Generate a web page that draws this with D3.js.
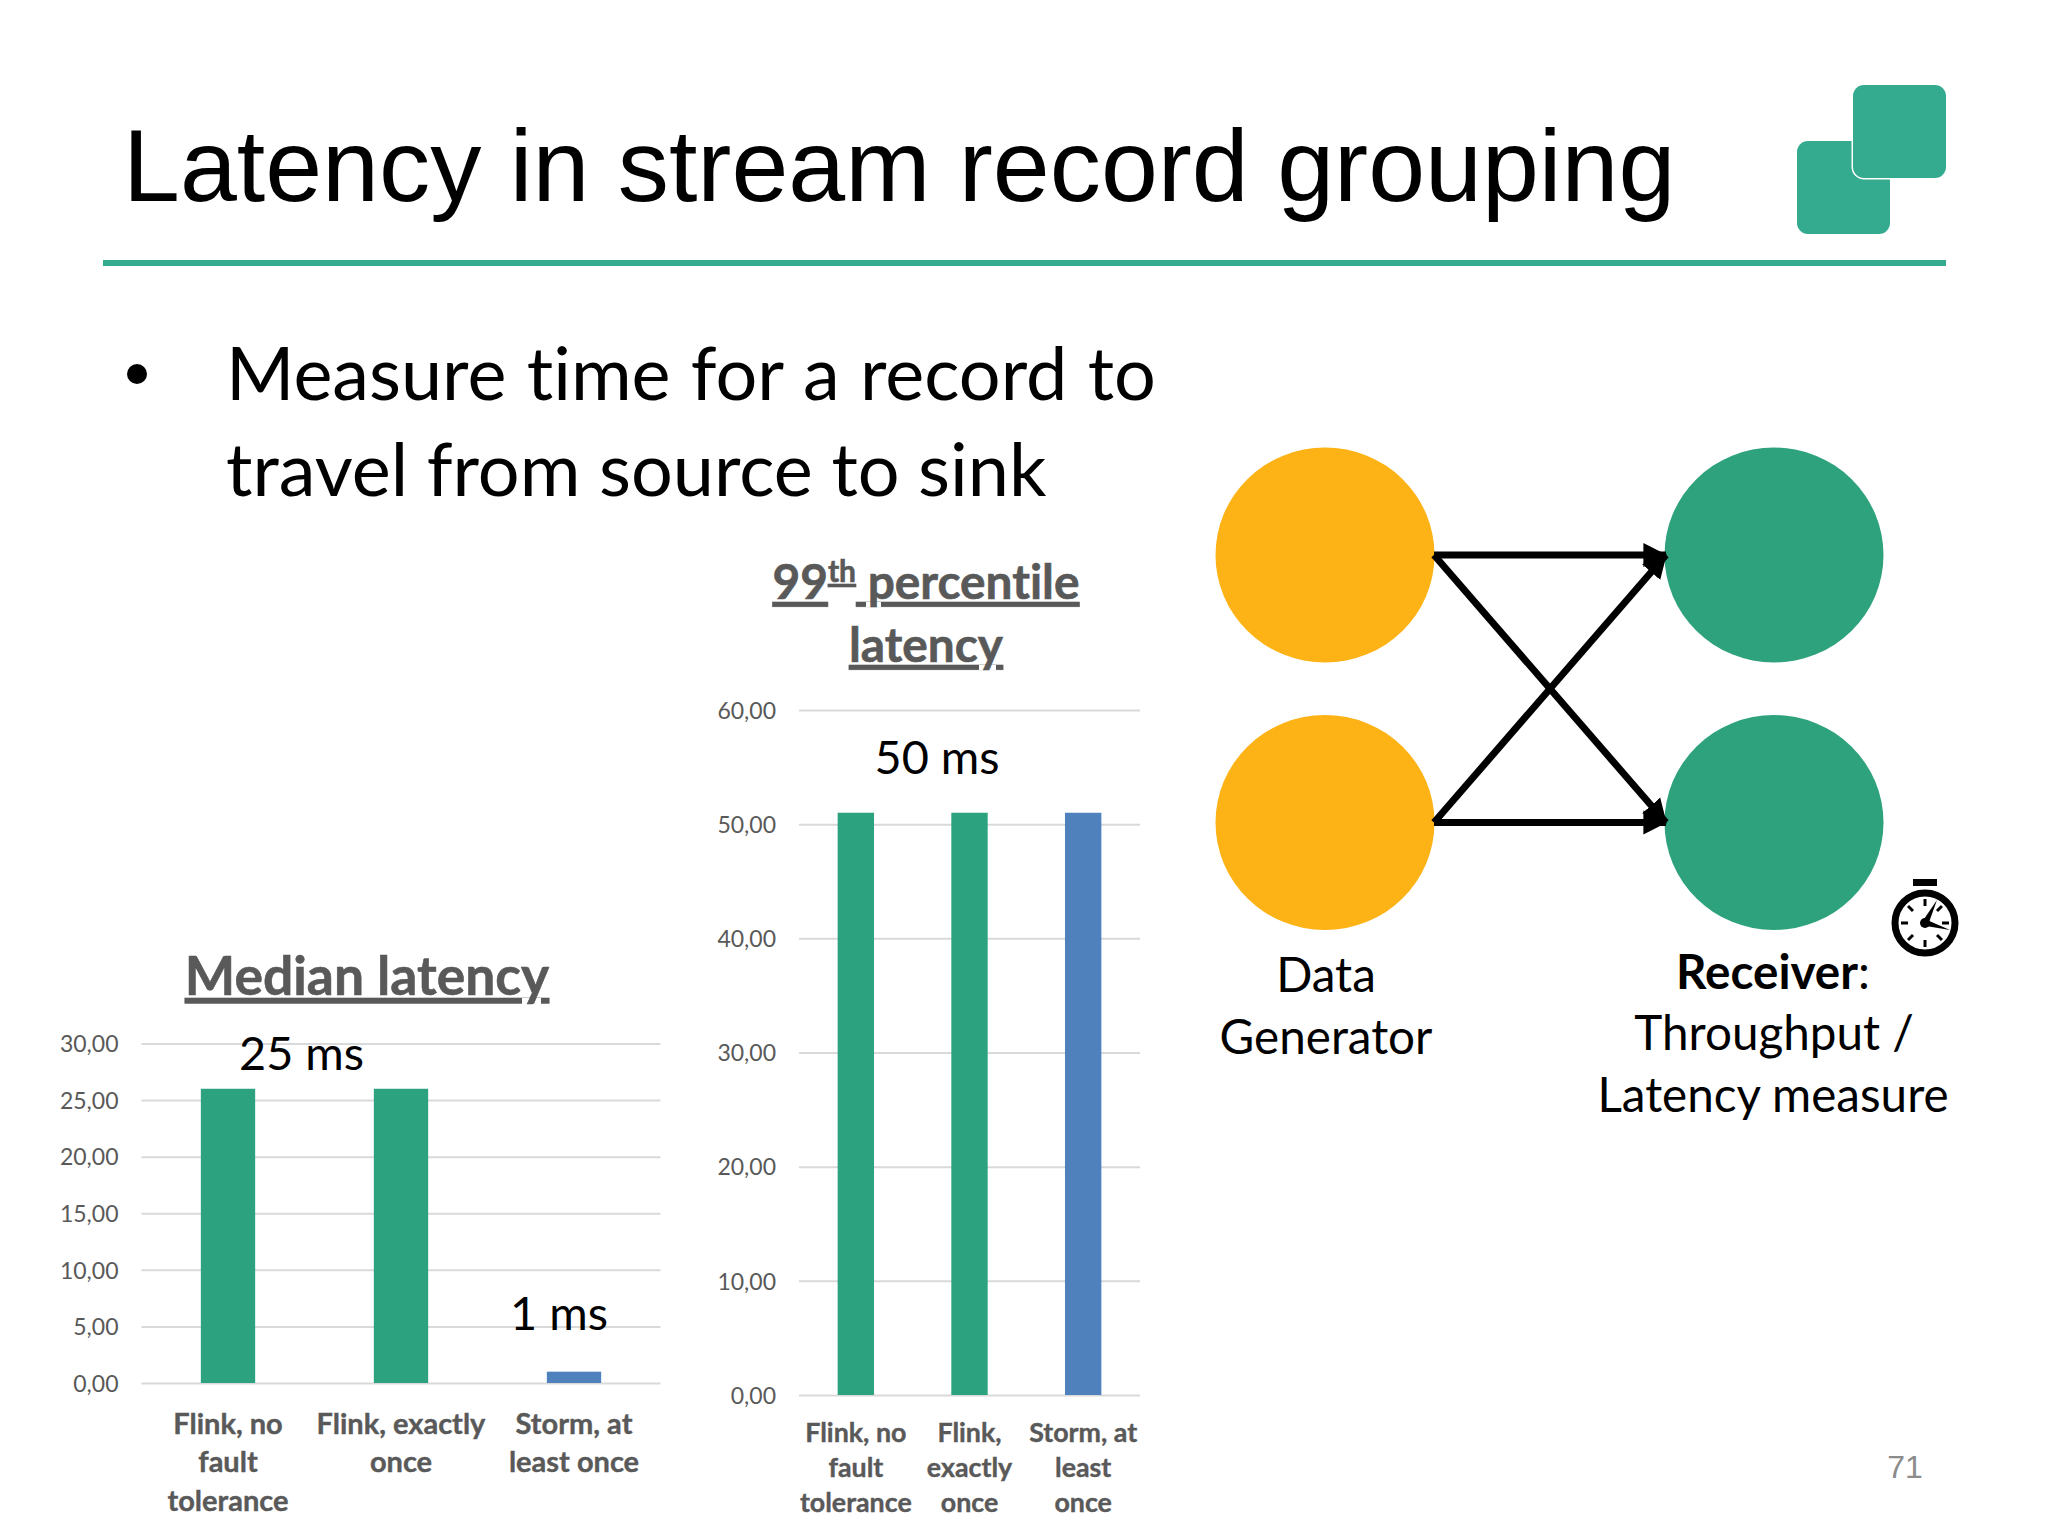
<!DOCTYPE html>
<html><head><meta charset="utf-8">
<script src="https://cdn.jsdelivr.net/npm/d3@7/dist/d3.min.js"></script>
<style>
html,body{margin:0;padding:0;background:#fff}
svg{display:block}
text{font-family:Lato,"Open Sans",sans-serif;font-variant-ligatures:none}
</style></head><body><svg id="c" width="2048" height="1536"></svg>
<script>
const categories = ["Flink, no fault tolerance","Flink, exactly once","Storm, at least once"];
const medianValues = [26,26,1];
const p99Values = [51,51,51];
const medianLabelLines = [["Flink, no","fault","tolerance"],["Flink, exactly","once"],["Storm, at","least once"]];
const p99LabelLines = [["Flink, no","fault","tolerance"],["Flink,","exactly","once"],["Storm, at","least","once"]];
const medianTicks = [0,5,10,15,20,25,30];
const p99Ticks = [0,10,20,30,40,50,60];
const barColors = ["#2CA37E","#2CA37E","#4F81BD"];

const svg = d3.select("#c");
svg.append("rect").attr("width",2048).attr("height",1536).attr("fill","#fff");
const TEAL="#34AB8E", YEL="#FDB215", GRN="#2EA27C", INK="#595959";

// header
svg.append("text").attr("x",123).attr("y",201).attr("font-size",102.3)
  .style("font-family","'Liberation Sans',Arial,sans-serif").attr("fill","#000")
  .text("Latency in stream record grouping");
svg.append("rect").attr("x",103).attr("y",260).attr("width",1843).attr("height",6).attr("fill",TEAL);
svg.append("rect").attr("x",1797).attr("y",141).attr("width",93).attr("height",93).attr("rx",11).attr("fill",TEAL);
svg.append("rect").attr("x",1853).attr("y",85).attr("width",93).attr("height",93).attr("rx",11).attr("fill",TEAL).attr("stroke","#fff").attr("stroke-width",3).style("paint-order","stroke");

// bullet
svg.append("circle").attr("cx",137).attr("cy",374).attr("r",10).attr("fill","#000");
[["Measure time for a record to",400,1.4],["travel from source to sink",496,-0.3]].forEach(([t,y,ws])=>{
  svg.append("text").attr("x",226).attr("y",y).attr("font-size",73.8).attr("word-spacing",ws).attr("fill","#000").text(t);
});

function chart(o){
  const x=d3.scaleBand().domain(categories).range([o.x0,o.x1]).paddingInner(o.pad).paddingOuter(o.pad/2);
  const y=d3.scaleLinear().domain([0,o.max]).range([o.y0,o.y1]);
  const g=svg.append("g");
  const ya=g.append("g").attr("transform",`translate(${o.x0},0)`)
    .call(d3.axisLeft(y).tickValues(o.ticks).tickSize(-(o.x1-o.x0)).tickPadding(o.tickPad).tickFormat(d=>d3.format(".2f")(d).replace(".",",")));
  ya.select(".domain").remove();
  ya.selectAll("line").attr("stroke","#D9D9D9").attr("stroke-width",2);
  ya.selectAll("text").attr("fill",INK).attr("font-size",o.tickSize).attr("dy","0.36em").style("font-family","Lato,sans-serif");
  g.selectAll("rect.b").data(o.values).join("rect").attr("class","b")
    .attr("x",(d,i)=>x(categories[i])).attr("width",x.bandwidth())
    .attr("y",d=>y(d)).attr("height",d=>y(0)-y(d)).attr("fill",(d,i)=>barColors[i]);
  const xa=g.append("g").attr("transform",`translate(0,${o.y0})`)
    .call(d3.axisBottom(x).tickSize(0).tickFormat(()=>""));
  xa.select(".domain").remove();
  xa.selectAll(".tick text").each(function(d,i){
    const t=d3.select(this).attr("y",0).attr("dy",null).attr("fill",INK).attr("stroke",INK).attr("stroke-width",0.4)
      .attr("font-size",o.catSize).attr("font-weight",700).style("font-family","Lato,sans-serif").attr("text-anchor","middle");
    o.lines[i].forEach((l,k)=>t.append("tspan").attr("x",0).attr("y",o.catY+k*o.catLead).text(l));
  });
}
chart({x0:141.5,x1:660.5,y0:1383,y1:1043.5,max:30,pad:0.686,ticks:medianTicks,values:medianValues,lines:medianLabelLines,tickSize:23,tickPad:23,catSize:29,catY:50.5,catLead:38.5});
chart({x0:799,x1:1140,y0:1395,y1:710,max:60,pad:0.68,ticks:p99Ticks,values:p99Values,lines:p99LabelLines,tickSize:23,tickPad:23,catSize:26.8,catY:46.5,catLead:35});

// chart titles
function title(t,cx,y,size){
  return svg.append("text").attr("x",cx).attr("y",y).attr("text-anchor","middle").attr("font-size",size)
    .attr("font-weight",700).attr("fill",INK).attr("stroke",INK).attr("stroke-width",0.6).attr("text-decoration","underline").text(t);
}
title("Median latency",367,995,53.4);
const p=svg.append("text").attr("x",926).attr("y",599).attr("text-anchor","middle").attr("font-size",47.8).attr("font-weight",700).attr("fill",INK).attr("stroke",INK).attr("stroke-width",0.6).attr("text-decoration","underline");
p.append("tspan").text("99");
p.append("tspan").attr("font-size",30).attr("dy",-17).text("th");
p.append("tspan").attr("dy",17).text(" percentile");
title("latency",926,662,47.8);

// annotations
[["25 ms",301.5,1070],["1 ms",559,1330],["50 ms",937,774]].forEach(([t,x,y])=>{
  svg.append("text").attr("x",x).attr("y",y).attr("text-anchor","middle").attr("font-size",46.8).attr("fill","#000").text(t);
});

// flow diagram
const leftX=1325,rightX=1774,topY=555,botY=822.5;
[[leftX,topY,YEL],[leftX,botY,YEL],[rightX,topY,GRN],[rightX,botY,GRN]].forEach(([cx,cy,c])=>{
  svg.append("ellipse").attr("cx",cx).attr("cy",cy).attr("rx",109.5).attr("ry",107.5).attr("fill",c);
});
svg.append("defs").append("marker").attr("id","ah").attr("viewBox","0 0 10 10").attr("refX",9.5).attr("refY",5)
  .attr("markerWidth",3.4).attr("markerHeight",3.8).attr("orient","auto")
  .append("path").attr("d","M0,0L10,5L0,10Z").attr("fill","#000");
const sx=1434, ex=1666;
[[sx,topY,ex,topY],[sx,topY,ex,botY],[sx,botY,ex,topY],[sx,botY,ex,botY]].forEach(([a,b,c,d])=>{
  svg.append("line").attr("x1",a).attr("y1",b).attr("x2",c).attr("y2",d).attr("stroke","#000").attr("stroke-width",7).attr("marker-end","url(#ah)");
});

// diagram captions
[["Data",1326,992],["Generator",1326,1054],["Throughput /",1774,1050],["Latency measure",1773,1112]].forEach(([t,x,y])=>{
  svg.append("text").attr("x",x).attr("y",y).attr("text-anchor","middle").attr("font-size",47.6).attr("fill","#000").text(t);
});
const r=svg.append("text").attr("x",1773).attr("y",989).attr("text-anchor","middle").attr("font-size",47.6).attr("fill","#000");
r.append("tspan").attr("font-weight",700).text("Receiver");
r.append("tspan").text(":");

// stopwatch
const sw=svg.append("g").attr("transform","translate(1925,923)");
sw.append("circle").attr("r",30).attr("fill","#fff").attr("stroke","#000").attr("stroke-width",7);
sw.append("rect").attr("x",-12).attr("y",-44).attr("width",24).attr("height",7).attr("fill","#000");
d3.range(8).forEach(i=>{
  const a=i*Math.PI/4;
  sw.append("line").attr("x1",17*Math.sin(a)).attr("y1",-17*Math.cos(a)).attr("x2",24*Math.sin(a)).attr("y2",-24*Math.cos(a)).attr("stroke","#000").attr("stroke-width",3);
});
sw.append("circle").attr("r",5).attr("fill","#000");
sw.append("path").attr("d","M-3,-1L12,-23L3,2Z").attr("fill","#000");
sw.append("path").attr("d","M2,-3L25,7L1,3Z").attr("fill","#000");

// page number
svg.append("text").attr("x",1905).attr("y",1478).attr("text-anchor","middle").attr("font-size",32)
  .style("font-family","'Liberation Sans',Arial,sans-serif").attr("fill","#8C8C8C").text("71");
</script></body></html>
